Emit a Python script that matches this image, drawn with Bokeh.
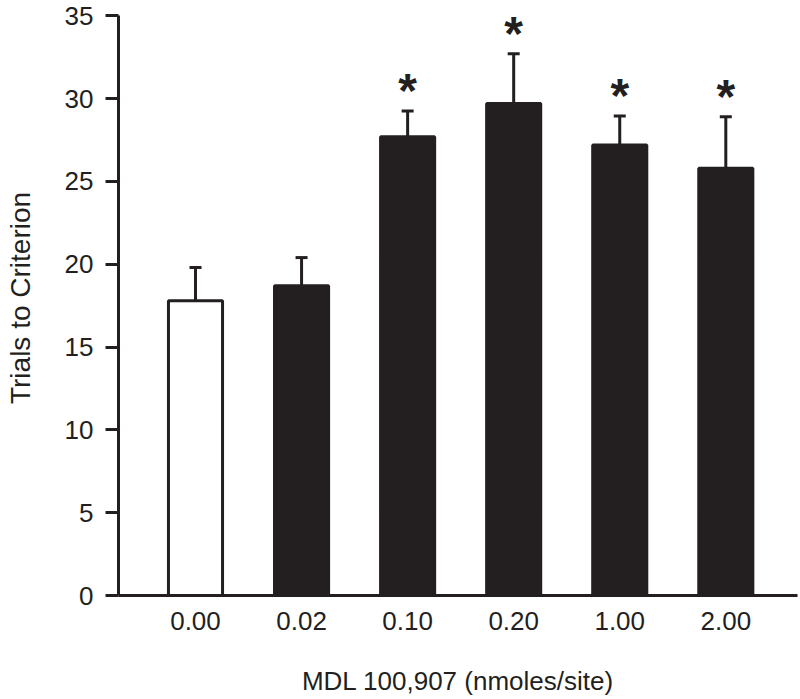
from bokeh.plotting import figure
from bokeh.models import ColumnDataSource, Range1d, FixedTicker, Whisker, TeeHead
from bokeh.core.properties import value
from bokeh.embed import file_html
from bokeh.resources import INLINE

# ---- data ----
doses = ["0.00", "0.02", "0.10", "0.20", "1.00", "2.00"]
means = [17.8, 18.7, 27.7, 29.7, 27.2, 25.8]
sem_upper = [19.8, 20.4, 29.25, 32.7, 28.95, 28.9]
significant = [False, False, True, True, True, True]
fill_colors = ["#ffffff", "#231f20", "#231f20", "#231f20", "#231f20", "#231f20"]
y_ticks = [0, 5, 10, 15, 20, 25, 30, 35]

INK = "#231f20"
FONT = "Liberation Sans"

xs = list(range(len(doses)))
src = ColumnDataSource(dict(x=xs, top=means, upper=sem_upper, fill=fill_colors))

p = figure(width=800, height=699, output_backend="svg", toolbar_location=None,
           x_range=Range1d(-0.726, 5.676), y_range=Range1d(0, 35.92),
           min_border_left=118, min_border_right=3, min_border_top=0, min_border_bottom=104)
p.outline_line_color = None
p.xgrid.visible = False
p.ygrid.visible = False
p.background_fill_color = "white"
p.border_fill_color = "white"

p.vbar(x="x", top="top", width=0.51, bottom=0, source=src,
       fill_color="fill", line_color=INK, line_width=3)

w = Whisker(base="x", lower="top", upper="upper", source=src, dimension="height",
            line_color=INK, line_width=3,
            upper_head=TeeHead(size=12, line_color=INK, line_width=3), lower_head=None)
p.add_layout(w)

sx = [x for x, s in zip(xs, significant) if s]
sy = [u for u, s in zip(sem_upper, significant) if s]
p.text(x=sx, y=sy, text=["*"] * len(sx), text_font=value(FONT), text_font_style="bold",
       text_font_size="48px", text_align="center", text_baseline="middle",
       y_offset=-20, text_color=INK)

# y axis
ya = p.yaxis[0]
ya.ticker = FixedTicker(ticks=y_ticks)
ya.bounds = (0, 35)
ya.axis_line_width = 3
ya.axis_line_color = INK
ya.major_tick_line_width = 3
ya.major_tick_line_color = INK
ya.major_tick_out = 13
ya.major_tick_in = 0
ya.minor_tick_line_color = None
ya.major_label_text_font = FONT
ya.major_label_text_font_size = "26px"
ya.major_label_text_color = INK
ya.major_label_standoff = 12
ya.axis_label = "Trials to Criterion"
ya.axis_label_text_font = FONT
ya.axis_label_text_font_style = "normal"
ya.axis_label_text_font_size = "28px"
ya.axis_label_text_color = INK
ya.axis_label_standoff = 26

# x axis
xa = p.xaxis[0]
xa.ticker = FixedTicker(ticks=xs)
xa.major_label_overrides = {i: d for i, d in zip(xs, doses)}
xa.axis_line_width = 3
xa.axis_line_color = INK
xa.major_tick_line_color = None
xa.minor_tick_line_color = None
xa.major_tick_out = 0
xa.major_tick_in = 0
xa.major_label_text_font = FONT
xa.major_label_text_font_size = "26px"
xa.major_label_text_color = INK
xa.major_label_standoff = 16
xa.axis_label = "MDL 100,907 (nmoles/site)"
xa.axis_label_text_font = FONT
xa.axis_label_text_font_style = "normal"
xa.axis_label_text_font_size = "26px"
xa.axis_label_text_color = INK
xa.axis_label_standoff = 33

open("out.html", "w").write(file_html(p, INLINE))
